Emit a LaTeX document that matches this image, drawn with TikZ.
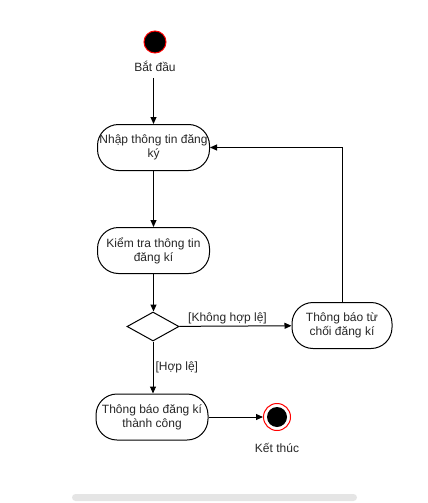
\documentclass[tikz,border=0pt]{standalone}
\usepackage{fontspec}
\setmainfont{Liberation Sans}
\usetikzlibrary{arrows.meta,shapes.geometric}

\begin{document}
\begin{tikzpicture}[x=1pt,y=-1pt,line width=1pt,
  font=\fontsize{12}{14}\selectfont,
  action/.style={draw,rounded corners=21pt,minimum width=112pt,minimum height=46pt,align=center,inner sep=1pt,text=black!85},
  decision/.style={draw,diamond,minimum width=52pt,minimum height=29pt,inner sep=0pt},
  startdot/.style={circle,draw=red,fill=black,minimum size=22pt,inner sep=0pt},
  endring/.style={circle,draw=red,fill=white,minimum size=27pt,inner sep=0pt},
  enddot/.style={circle,fill=black,minimum size=20pt,inner sep=0pt},
  lbl/.style={text=black!85,inner sep=2pt},
  flow/.style={-{Triangle[length=7pt,width=6pt]}}]

% fixed frame of the page
\useasboundingbox (0,0) rectangle (428,503);

% start and end points
\node[startdot] (start) at (155,42) {};
\node[lbl] (startlbl) at (155,66) {Bắt đầu};
\node[endring] (stop) at (277,417) {};
\node[enddot] (stopdot) at (stop) {};
\node[lbl] (stoplbl) at (277,448) {Kết thúc};

% activities
\node[action] (input) at (153.5,147.5) {Nhập thông tin đăng\\ký};
\node[action] (check) at (153.5,250.5) {Kiểm tra thông tin\\đăng kí};
\node[decision] (dec) at (153,326.5) {};
\node[action] (ok) at (152,417) {Thông báo đăng kí\\thành công};
\node[action,minimum width=100pt] (reject) at (342,325.5) {Thông báo từ\\chối đăng kí};

% flows
\draw[flow] (startlbl.south -| input.north) ++(0,4) -- (input.north);
\draw[flow] (input) -- (check);
\draw[flow] (check.south) -- (check.south |- dec.north);
\draw[flow] (dec.south) -- node[lbl,right,pos=0.5] {[Hợp lệ]} (dec.south |- ok.north);
\draw[flow] (dec) -- node[lbl,above,pos=0.43] {[Không hợp lệ]} (reject);
\draw[flow] (reject.north) |- (input.east);
\draw[flow] (ok) -- (stop);

% scroll bar
\fill[black!10,rounded corners=3.5pt] (72,494) rectangle (357,501);

\end{tikzpicture}
\end{document}
